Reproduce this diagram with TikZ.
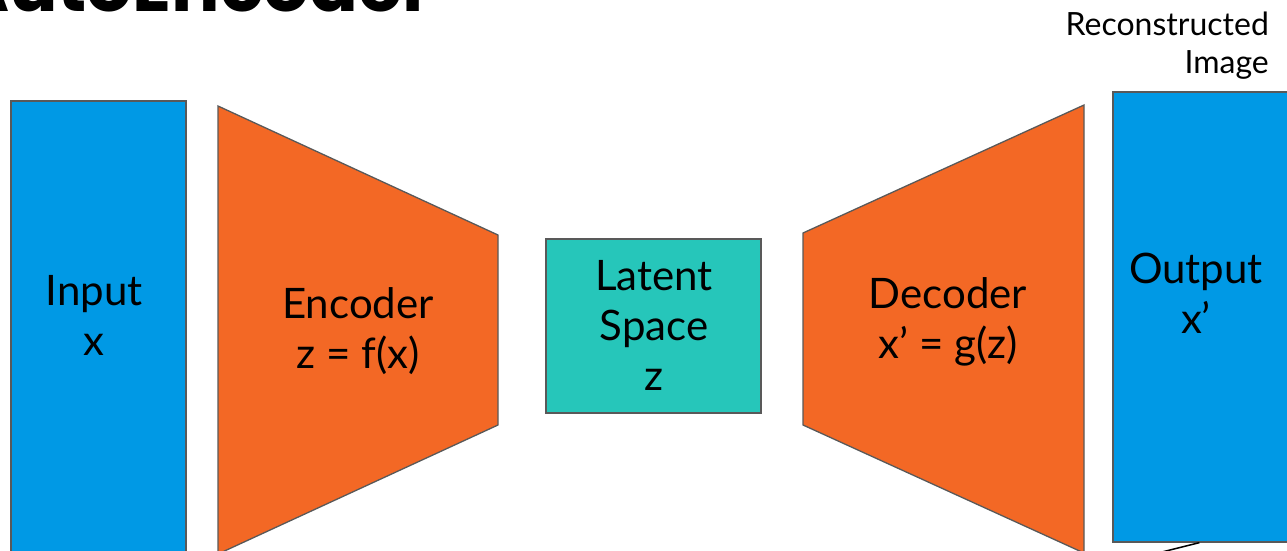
\documentclass[tikz,border=0pt]{standalone}
\usepackage{fontspec}
\setmainfont{Lato}
\newfontfamily\titlefont{Poppins}
\definecolor{inblue}{RGB}{0,153,229}
\definecolor{codeorange}{RGB}{243,104,37}
\definecolor{latentteal}{RGB}{38,198,186}
\definecolor{edgegray}{RGB}{89,89,89}
\begin{document}
\begin{tikzpicture}[x=1pt,y=-1pt,
  shapeedge/.style={draw=edgegray,line width=1.3pt,line join=miter},
  blockbox/.style={shapeedge,rectangle,inner sep=0pt},
  bigtext/.style={font=\fontsize{42}{50}\selectfont,align=center,anchor=base,inner sep=0pt},
  smalltext/.style={font=\fontsize{32}{38}\selectfont,align=right,anchor=base east,inner sep=0pt},
  pointer/.style={draw=black,line width=1.5pt}]
\useasboundingbox (0,0) rectangle (1287,550);
\clip (0,0) rectangle (1287,550);

% title
\node[font=\titlefont\bfseries\fontsize{72}{80}\selectfont,anchor=base east,inner sep=0pt] (title) at (434,11) {AutoEncoder};

% input and output images
\node[blockbox,fill=inblue,minimum width=175pt,minimum height=459pt] (input) at (98.5,330.5) {};
\node[blockbox,fill=inblue,minimum width=180pt,minimum height=450pt] (output) at (1203,317) {};

% latent code
\node[blockbox,fill=latentteal,minimum width=215pt,minimum height=174pt] (latent) at (653.5,326) {};

% encoder and decoder funnels
\coordinate (enc1) at (218,106);
\coordinate (enc2) at (498,235);
\coordinate (enc3) at (498,425);
\coordinate (enc4) at (218,554);
\draw[shapeedge,fill=codeorange] (enc1) -- (enc2) -- (enc3) -- (enc4) -- cycle;
\coordinate (dec1) at (803,233);
\coordinate (dec2) at (1084,105);
\coordinate (dec3) at (1084,553);
\coordinate (dec4) at (803,425);
\draw[shapeedge,fill=codeorange] (dec1) -- (dec2) -- (dec3) -- (dec4) -- cycle;

% labels (anchored on the baseline of their last line)
\node[bigtext] (inlabel) at (94,355) {Input\\x};
\node[bigtext] (enclabel) at (358,368) {Encoder\\z = f(x)};
\node[bigtext] (latlabel) at (654,390) {Latent\\Space\\z};
\node[bigtext] (declabel) at (948,358) {Decoder\\x’ = g(z)};
\node[bigtext] (outlabel) at (1196,333) {Output\\x’};
\node[smalltext] (recon) at (1269,73) {Reconstructed\\Image};

% pointer leaving the output image
\coordinate (pointerend) at (1130,560);
\draw[pointer] ([xshift=87pt]output.south west) -- (pointerend);
\end{tikzpicture}
\end{document}
